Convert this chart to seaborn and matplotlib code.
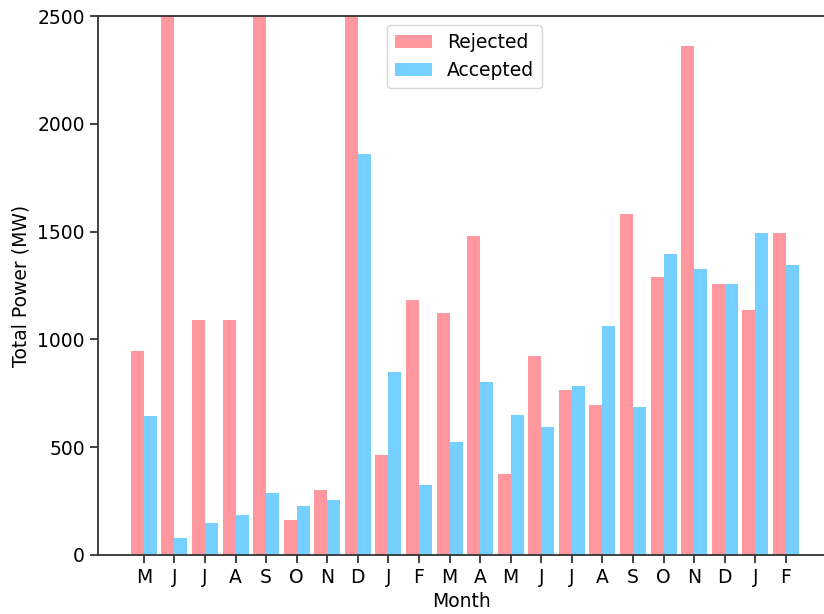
import matplotlib
matplotlib.use("Agg")
import matplotlib.pyplot as plt
import seaborn as sns
import pandas as pd

months = ["M", "J", "J", "A", "S", "O", "N", "D", "J", "F", "M",
          "A", "M", "J", "J", "A", "S", "O", "N", "D", "J", "F"]
rejected = [945, 3000, 1089, 1089, 3000, 162, 301, 3000, 463, 1182, 1121,
            1478, 375, 922, 765, 695, 1580, 1288, 2359, 1256, 1135, 1492]
accepted = [644, 79, 148, 185, 287, 227, 255, 1858, 848, 324, 524,
            802, 649, 593, 783, 1061, 686, 1395, 1325, 1256, 1492, 1344]

idx = list(range(len(months)))
df = pd.DataFrame({
    "idx": idx * 2,
    "power": rejected + accepted,
    "status": ["Rejected"] * len(idx) + ["Accepted"] * len(idx),
})

plt.rcParams["font.family"] = ["DejaVu Sans"]
plt.rcParams["font.size"] = 13.5

fig = plt.figure(figsize=(8.24, 6.14), dpi=100)
ax = fig.add_axes([98 / 824, 59 / 614, 1 - 98 / 824, 539 / 614])

sns.barplot(data=df, x="idx", y="power", hue="status",
            palette={"Rejected": "#FF989E", "Accepted": "#76D0FF"},
            width=0.85, saturation=1, ax=ax, errorbar=None)

ax.set_ylim(0, 2500)
ax.set_xlim(-1.5, 22.25)
ax.set_xticks(idx)
ax.set_xticklabels(months)
ax.set_yticks([0, 500, 1000, 1500, 2000, 2500])
ax.set_xlabel("Month", fontsize=13.5, labelpad=3.5)
ax.set_ylabel("Total Power (MW)", fontsize=13.5, labelpad=5)
ax.spines["right"].set_visible(False)
for s in ["left", "top", "bottom"]:
    ax.spines[s].set_linewidth(1.3)
    ax.spines[s].set_color("#333333")
ax.tick_params(labelsize=13.5, length=6, width=1.3, color="#333333")

leg = ax.legend(loc="upper center", fontsize=13.5, frameon=True,
                bbox_to_anchor=(0.505, 1.0))
leg.get_frame().set_edgecolor("#cccccc")

fig.savefig("out.png", dpi=100)
